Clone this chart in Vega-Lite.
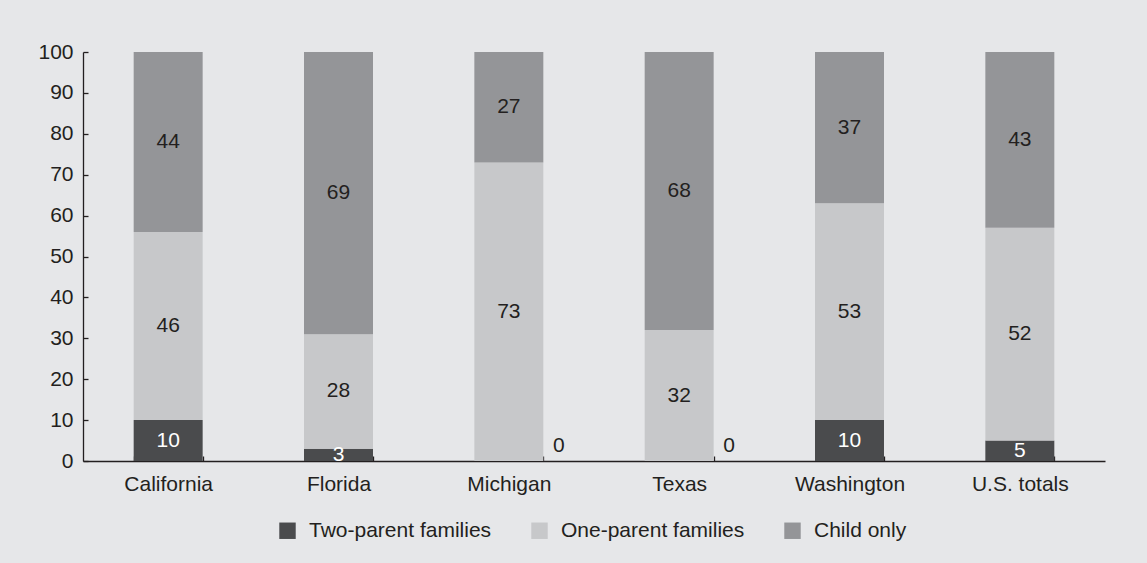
{
  "$schema": "https://vega.github.io/schema/vega-lite/v6.json",
  "width": 1022,
  "height": 409,
  "autosize": {"type": "none"},
  "padding": {"left": 83, "top": 52, "right": 42, "bottom": 102},
  "background": "#e6e7e9",
  "config": {
    "view": {"stroke": null},
    "font": "Liberation Sans",
    "axis": {
      "labelFont": "Liberation Sans",
      "labelFontSize": 21,
      "labelColor": "#231f20",
      "domainColor": "#231f20",
      "tickColor": "#231f20",
      "domainWidth": 1.3,
      "tickWidth": 1.3,
      "grid": false,
      "title": null
    },
    "legend": {
      "labelFont": "Liberation Sans",
      "labelFontSize": 21,
      "labelColor": "#231f20",
      "labelLimit": 0
    }
  },
  "data": {
    "values": [
      {"state": "California", "group": "Two-parent families", "value": 10},
      {"state": "California", "group": "One-parent families", "value": 46},
      {"state": "California", "group": "Child only", "value": 44},
      {"state": "Florida", "group": "Two-parent families", "value": 3},
      {"state": "Florida", "group": "One-parent families", "value": 28},
      {"state": "Florida", "group": "Child only", "value": 69},
      {"state": "Michigan", "group": "Two-parent families", "value": 0},
      {"state": "Michigan", "group": "One-parent families", "value": 73},
      {"state": "Michigan", "group": "Child only", "value": 27},
      {"state": "Texas", "group": "Two-parent families", "value": 0},
      {"state": "Texas", "group": "One-parent families", "value": 32},
      {"state": "Texas", "group": "Child only", "value": 68},
      {"state": "Washington", "group": "Two-parent families", "value": 10},
      {"state": "Washington", "group": "One-parent families", "value": 53},
      {"state": "Washington", "group": "Child only", "value": 37},
      {"state": "U.S. totals", "group": "Two-parent families", "value": 5},
      {"state": "U.S. totals", "group": "One-parent families", "value": 52},
      {"state": "U.S. totals", "group": "Child only", "value": 43}
    ]
  },
  "encoding": {
    "x": {
      "field": "state",
      "type": "nominal",
      "sort": ["California", "Florida", "Michigan", "Texas", "Washington", "U.S. totals"],
      "scale": {"paddingInner": 0.595, "paddingOuter": 0.2975},
      "axis": {"labelAngle": 0, "tickBand": "extent", "tickSize": -5, "labelPadding": 17}
    }
  },
  "layer": [
    {
      "mark": {"type": "bar"},
      "encoding": {
        "y": {
          "field": "value",
          "type": "quantitative",
          "stack": "zero",
          "scale": {"domain": [0, 100], "nice": false},
          "axis": {"values": [0, 10, 20, 30, 40, 50, 60, 70, 80, 90, 100], "tickSize": -5, "labelPadding": 15}
        },
        "color": {
          "field": "group",
          "type": "nominal",
          "scale": {
            "domain": ["Two-parent families", "One-parent families", "Child only"],
            "range": ["#4a4b4d", "#c7c8ca", "#949598"]
          },
          "legend": {
            "title": null,
            "orient": "none",
            "direction": "horizontal",
            "legendX": 194,
            "legendY": 468,
            "symbolType": "square",
            "symbolSize": 270,
            "symbolStrokeWidth": 0,
            "labelOffset": 11,
            "columnPadding": 37
          }
        },
        "order": {"field": "group", "sort": "descending"}
      }
    },
    {
      "transform": [{"filter": "datum.value > 0"}],
      "mark": {"type": "text", "fontSize": 21, "font": "Liberation Sans", "baseline": "middle"},
      "encoding": {
        "y": {"field": "value", "type": "quantitative", "stack": "zero", "bandPosition": 0.5},
        "text": {"field": "value", "type": "quantitative"},
        "order": {"field": "group", "sort": "descending"},
        "color": {
          "condition": {"test": "datum.group === 'Two-parent families'", "value": "#ffffff"},
          "value": "#231f20"
        }
      }
    },
    {
      "transform": [{"filter": "datum.value === 0"}],
      "mark": {"type": "text", "fontSize": 21, "font": "Liberation Sans", "baseline": "middle", "dx": 50, "dy": -15, "color": "#231f20"},
      "encoding": {
        "y": {"field": "value", "type": "quantitative"},
        "text": {"field": "value", "type": "quantitative"}
      }
    }
  ]
}
